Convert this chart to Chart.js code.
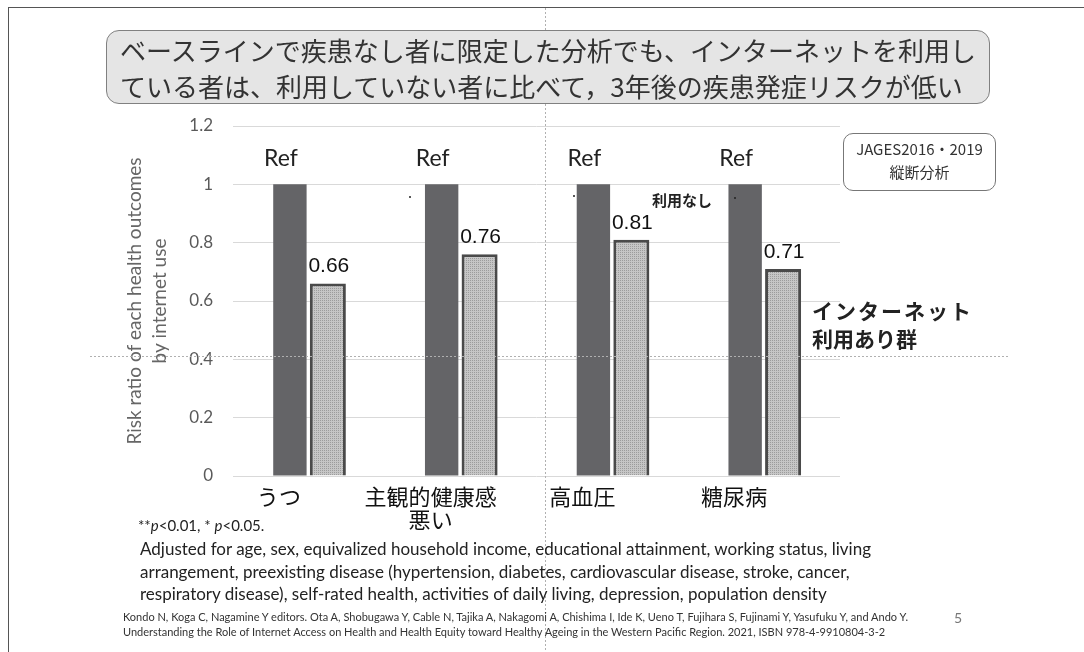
<!DOCTYPE html>
<html><head><meta charset="utf-8">
<script src="https://cdn.jsdelivr.net/npm/chart.js@4.4.0/dist/chart.umd.min.js"></script>
<style>
html,body{margin:0;padding:0;background:#fff;}
#wrap{position:relative;width:1084px;height:652px;overflow:hidden;background:#fff;}
canvas{position:absolute;left:0;top:0;}
.t{position:absolute;white-space:nowrap;}
.jp{font-family:"Noto Sans CJK JP","Noto Sans",sans-serif;}
.lt{font-family:Lato,"Open Sans",sans-serif;}
.dot{position:absolute;width:2px;height:2px;background:#222;border-radius:1px;}
</style></head><body><div id="wrap">
<canvas id="c" width="1084" height="652"></canvas>
<div style="position:absolute;left:8px;top:7px;width:1090px;height:660px;border-left:1.5px solid #555;border-top:1.5px solid #555;"></div>
<div style="position:absolute;left:106px;top:30px;width:882px;height:72px;background:#e5e5e5;border:1.5px solid #808080;border-radius:13px;"></div>
<div class="t jp" style="left:120px;top:34px;font-size:26px;line-height:32px;color:#333;">ベースラインで疾患なし者に限定した分析でも、インターネットを利用し</div>
<div class="t jp" style="left:120px;top:70px;font-size:26px;line-height:32px;color:#333;">ている者は、利用していない者に比べて，3年後の疾患発症リスクが低い</div>
<div style="position:absolute;left:843px;top:133px;width:151px;height:56px;background:#fff;border:1.5px solid #777;border-radius:10px;"></div>
<div class="t jp" style="left:843px;top:139px;width:153px;text-align:center;font-size:15px;line-height:20px;color:#333;">JAGES2016・2019</div>
<div class="t jp" style="left:843px;top:162px;width:153px;text-align:center;font-size:15px;line-height:20px;color:#333;">縦断分析</div>
<div class="t jp" style="left:652px;top:189px;font-size:15px;line-height:22px;color:#222;font-weight:700;">利用なし</div>
<div class="dot" style="left:734px;top:197px;"></div>
<div class="dot" style="left:409px;top:196px;"></div>
<div class="dot" style="left:573px;top:195px;"></div>
<div class="t jp" style="left:812px;top:295px;font-size:21px;line-height:30px;color:#222;font-weight:700;letter-spacing:2px;">インターネット</div>
<div class="t jp" style="left:812px;top:323px;font-size:21px;line-height:30px;color:#222;font-weight:700;">利用あり群</div>
<div class="t lt" style="left:138px;top:514px;font-size:15px;line-height:22px;color:#222;">**<i>p</i>&lt;0.01, * <i>p</i>&lt;0.05.</div>
<div class="t lt" style="left:140px;top:538px;font-size:17px;line-height:22px;color:#222;">Adjusted for age, sex, equivalized household income, educational attainment, working status, living</div>
<div class="t lt" style="left:140px;top:561px;font-size:17px;line-height:22px;color:#222;">arrangement, preexisting disease (hypertension, diabetes, cardiovascular disease, stroke, cancer,</div>
<div class="t lt" style="left:140px;top:583px;font-size:17px;line-height:22px;color:#222;">respiratory disease), self-rated health, activities of daily living, depression, population density</div>
<div class="t lt" style="left:123px;top:610px;font-size:11px;line-height:14px;color:#333;">Kondo N, Koga C, Nagamine Y editors. Ota A, Shobugawa Y, Cable N, Tajika A, Nakagomi A, Chishima I, Ide K, Ueno T, Fujihara S, Fujinami Y, Yasufuku Y, and Ando Y.</div>
<div class="t lt" style="left:123px;top:625px;font-size:11px;line-height:14px;color:#333;">Understanding the Role of Internet Access on Health and Health Equity toward Healthy Ageing in the Western Pacific Region. 2021, ISBN 978-4-9910804-3-2</div>
<div class="t lt" style="left:954px;top:609px;font-size:14px;line-height:18px;color:#777;">5</div>
</div>
<script>
const categories = ["うつ", ["主観的健康感", "悪い"], "高血圧", "糖尿病"];
const seriesNames = ["利用なし", "インターネット利用あり群"];
const refValues = [1, 1, 1, 1];
const internetValues = [0.66, 0.76, 0.81, 0.71];
const refLabels = ["Ref", "Ref", "Ref", "Ref"];
const valueLabels = ["0.66", "0.76", "0.81", "0.71"];
const yTickValues = [0, 0.2, 0.4, 0.6, 0.8, 1, 1.2];
const yTickLabels = ["0", "0.2", "0.4", "0.6", "0.8", "1", "1.2"];

function makePattern() {
  const p = document.createElement('canvas');
  p.width = 4; p.height = 4;
  const g = p.getContext('2d');
  g.fillStyle = '#c6c6c6'; g.fillRect(0, 0, 4, 4);
  g.fillStyle = '#9c9c9c';
  g.fillRect(0, 0, 1, 1); g.fillRect(2, 2, 1, 1); g.fillRect(2, 0, 1, 1); g.fillRect(0, 2, 1, 1);
  return g.createPattern(p, 'repeat');
}
const ctx = document.getElementById('c').getContext('2d');

const guidePlugin = {
  id: 'guides',
  afterDraw(chart) {
    const c = chart.ctx;
    c.save();
    c.strokeStyle = '#b0b0b0'; c.lineWidth = 1; c.setLineDash([2, 2]);
    c.beginPath(); c.moveTo(545.5, 8); c.lineTo(545.5, 652); c.stroke();
    c.beginPath(); c.moveTo(90, 356.5); c.lineTo(1008, 356.5); c.stroke();
    c.restore();
  }
};
const labelPlugin = {
  id: 'barLabels',
  afterDatasetsDraw(chart) {
    const c = chart.ctx;
    c.save();
    c.textAlign = 'center'; c.textBaseline = 'middle';
    const m0 = chart.getDatasetMeta(0).data;
    const m1 = chart.getDatasetMeta(1).data;
    c.fillStyle = '#222';
    c.font = '23px Lato, "Open Sans", sans-serif';
    m0.forEach((b, i) => c.fillText(refLabels[i], b.x - 9, b.y - 26));
    c.fillStyle = '#111';
    c.font = '21px "Liberation Sans", Arial, sans-serif';
    m1.forEach((b, i) => c.fillText(valueLabels[i], b.x + 1, b.y - 17));
    c.restore();
  }
};

new Chart(ctx, {
  type: 'bar',
  data: {
    labels: categories,
    datasets: [
      { label: seriesNames[0], data: refValues, backgroundColor: '#646467', borderWidth: 0,
        categoryPercentage: 0.5, barPercentage: 0.88 },
      { label: seriesNames[1], data: internetValues, backgroundColor: makePattern(), borderColor: '#4a4a4a', borderWidth: 3,
        categoryPercentage: 0.5, barPercentage: 0.95 }
    ]
  },
  options: {
    responsive: false, animation: false,
    layout: { padding: { left: 0, right: 244, top: 126, bottom: 0 } },
    plugins: { legend: { display: false }, tooltip: { enabled: false } },
    scales: {
      x: {
        grid: { display: false }, border: { display: false },
        ticks: { color: '#111', font: { family: '"Noto Sans CJK JP", sans-serif', size: 22, lineHeight: 1.05 }, padding: 1, labelOffset: -30, maxRotation: 0, autoSkip: false },
        afterFit(s) { s.height = 176; }
      },
      y: {
        min: 0, max: 1.2,
        afterBuildTicks(s) { s.ticks = yTickValues.map(v => ({ value: v })); },
        grid: { color: '#d9d9d9', lineWidth: 1, drawTicks: false },
        border: { display: false },
        ticks: { color: '#5a5a5a', font: { family: 'Lato, sans-serif', size: 17 }, padding: 20,
          callback(v) { const i = yTickValues.indexOf(v); return i >= 0 ? yTickLabels[i] : ''; } },
        title: { display: true, text: ['Risk ratio of each health outcomes', 'by internet use'], color: '#666',
          font: { family: 'Lato, sans-serif', size: 19, lineHeight: '25px' }, padding: { top: 122 } },
        afterFit(s) { s.width = 233; }
      }
    }
  },
  plugins: [guidePlugin, labelPlugin]
});
</script>
</body></html>
